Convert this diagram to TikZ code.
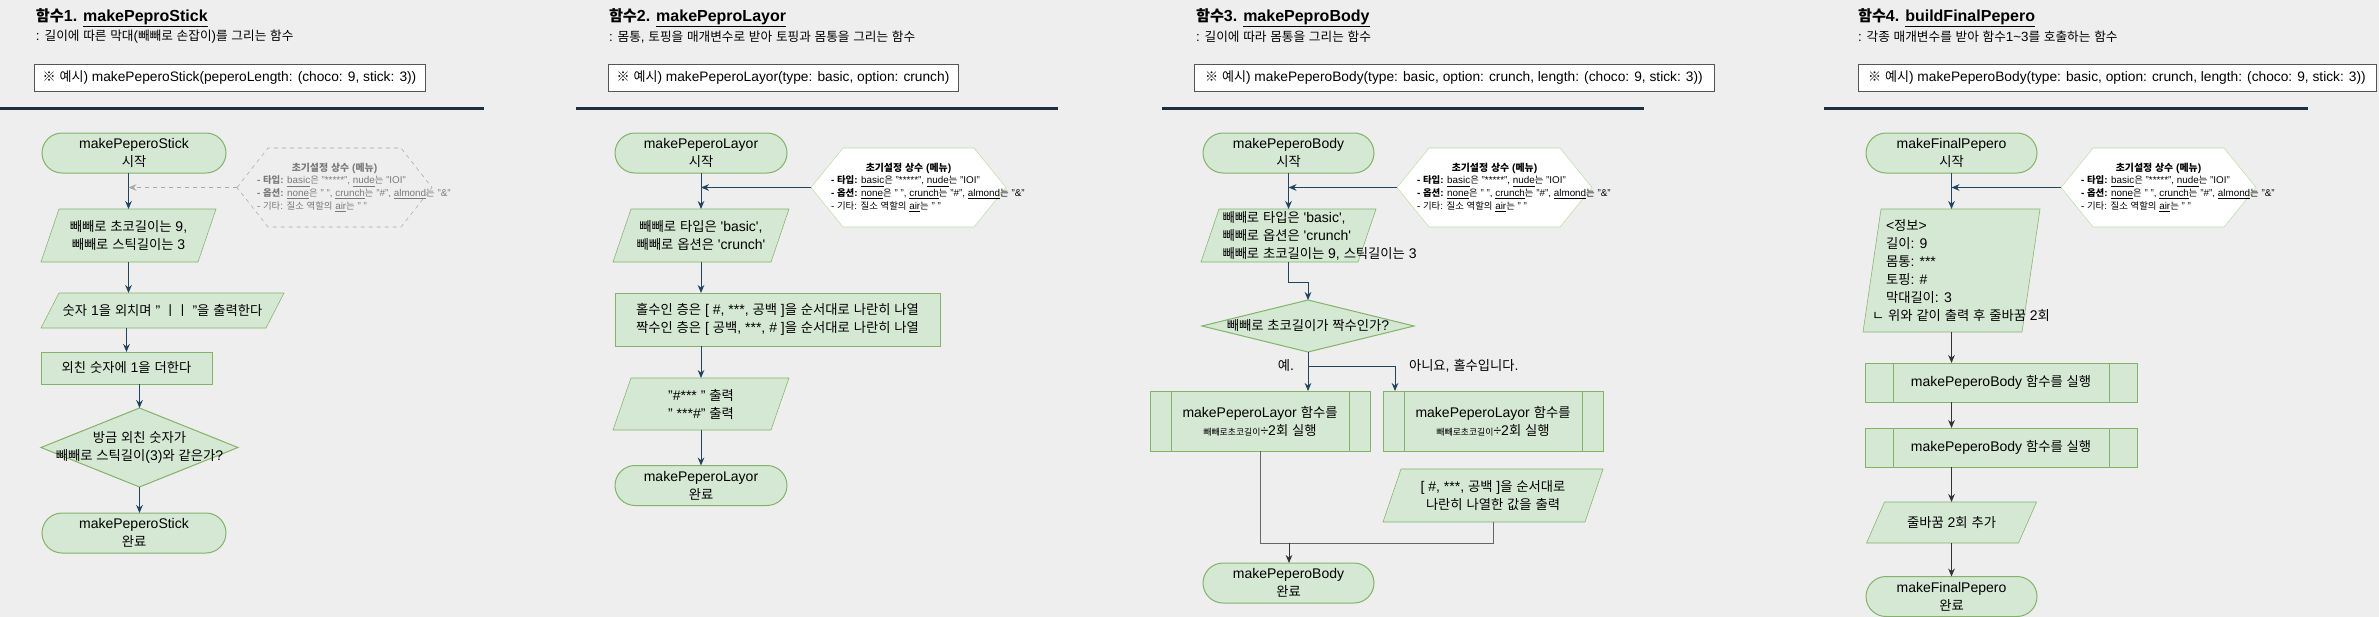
\documentclass[tikz,border=0pt]{standalone}
\usepackage{fontspec}
\setmainfont{Liberation Sans}
\newfontfamily\krfont{Noto Sans CJK KR}[Scale=0.95]
\usetikzlibrary{calc,shapes.geometric,arrows.meta}

% hangul is set in the CJK font, the rest in Liberation Sans
\XeTeXinterchartokenstate=1
\newXeTeXintercharclass\krclass
\newcount\krcode
\krcode="AC00
\loop
  \XeTeXcharclass\krcode=\krclass
  \advance\krcode by 1
\ifnum\krcode<"D7A4 \repeat
\XeTeXcharclass"3134=\krclass
\XeTeXcharclass"3163=\krclass
\XeTeXcharclass"203B=\krclass
\XeTeXinterchartoks 0 \krclass = {\krfont}
\XeTeXinterchartoks 4095 \krclass = {\krfont}
\XeTeXinterchartoks \krclass 0 = {\rmfamily}
\XeTeXinterchartoks \krclass 4095 = {\rmfamily}

\newdimen\pxu
\pxu=0.75pt
\newcommand{\squote}{\textquotesingle}
\newcommand{\midline}[1]{\makebox[0pt]{#1}}
\newcommand{\shiftline}[2]{\makebox[0pt][l]{\hspace*{#1}#2}}
\newcommand{\menutext}{%
  \midline{\fontsize{7.8}{9.5}\selectfont\bfseries 초기설정 상수 (메뉴)}\\
  \shiftline{-77.5\pxu}{\textbf{- 타입:} \underline{basic}은 "*****", \underline{nude}는 "IOI"}\\
  \shiftline{-77.5\pxu}{\textbf{- 옵션:} \underline{none}은 " ", \underline{crunch}는 "\#", \underline{almond}는 "\&"}\\
  \shiftline{-77.5\pxu}{- 기타: 질소 역할의 \underline{air}는 " "}}

\definecolor{bgcol}{HTML}{EEEEEE}
\definecolor{boxfill}{HTML}{D5E8D4}
\definecolor{boxline}{HTML}{82B366}
\definecolor{arrowblue}{HTML}{23445D}
\definecolor{arrowdark}{HTML}{333333}
\definecolor{joingray}{HTML}{666666}
\definecolor{rulecol}{HTML}{1F2F42}
\definecolor{hexline}{HTML}{BCDDAA}
\definecolor{hexgray}{HTML}{A8A8A8}
\definecolor{hextext}{HTML}{7A7A7A}
\definecolor{exampleline}{HTML}{555555}

\pgfdeclarelayer{background}
\pgfsetlayers{background,main}

\tikzset{
  every node/.style={font=\fontsize{10.5}{13.5}\selectfont, inner sep=1pt, outer sep=0pt},
  wh/.style 2 args={minimum width=#1*0.75pt, minimum height=#2*0.75pt},
  title/.style={font=\fontsize{12}{14}\selectfont\bfseries, inner sep=0pt},
  subtitle/.style={font=\fontsize{10}{12}\selectfont, inner sep=0pt},
  example/.style={draw=exampleline, fill=white, font=\fontsize{10.3}{12}\selectfont,
    inner xsep=4.5pt, minimum height=19.5pt, minimum width=#1*0.75pt},
  term/.style={rectangle, rounded corners=15pt, draw=boxline, fill=boxfill, align=center},
  proc/.style={rectangle, draw=boxline, fill=boxfill, align=center},
  subproc/.style={proc},
  iobox/.style={rectangle, align=center},
  check/.style={diamond, draw=boxline, fill=boxfill, align=center, inner sep=0pt},
  menu/.style={rectangle, align=center, font=\fontsize{7.4}{9.5}\selectfont},
  branch/.style={inner sep=0pt},
  rule/.style={draw=rulecol, line width=2.25pt},
  flow/.style={draw=arrowblue, -{Stealth[length=6pt,width=5pt]}},
  flowdark/.style={draw=arrowdark, -{Stealth[length=6pt,width=5pt]}},
  menuflow/.style={draw=hexgray, dashed, -{Stealth[length=6pt,width=5pt]}},
  joinline/.style={draw=joingray},
}

\begin{document}
\begin{tikzpicture}[x=0.75pt, y=-0.75pt, line width=0.75pt]
  \useasboundingbox (0,0) rectangle (2379,617);

  % FUNCTION 1
  \node[title, anchor=west] (t1) at (36,18) {함수1. \underline{makePeproStick}};
  \node[subtitle, anchor=west] (d1) at (36,37) {: 길이에 따른 막대(빼빼로 손잡이)를 그리는 함수};
  \node[example=391, anchor=west] (e1) at (34,78) {※ 예시) makePeperoStick(peperoLength: (choco: 9, stick: 3))};
  \draw[rule] (0,108) -- (484,108);
  \node[term, wh={184}{40}] (s1start) at (134,153) {makePeperoStick\\시작};
  \node[menu, wh={195}{79}, text=hextext] (s1menu) at (334.5,187.5) {\menutext};
  \node[iobox, wh={175}{53}] (s1in) at (128.5,235.5) {빼빼로 초코길이는 9,\\빼빼로 스틱길이는 3};
  \node[iobox, wh={243}{35}] (s1say) at (162.5,310.5) {숫자 1을 외치며 " ㅣㅣ "을 출력한다};
  \node[proc, wh={171}{32}] (s1add) at (126.5,368) {외친 숫자에 1을 더한다};
  \node[check, wh={197}{79}] (s1check) at (139.5,447.5) {\midline{방금 외친 숫자가}\\\midline{빼빼로 스틱길이(3)와 같은가?}};
  \node[term, wh={184}{40}] (s1end) at (134,533) {makePeperoStick\\완료};
  \draw[flow] (s1start.south -| s1in.north) -- (s1in.north);
  \draw[menuflow] (s1menu.west) -- (s1menu.west -| s1in.north);
  \draw[flow] (s1in.south) -- (s1in.south |- s1say.north);
  \draw[flow] (s1add.north |- s1say.south) -- (s1add.north);
  \draw[flow] (s1check.north |- s1add.south) -- (s1check.north);
  \draw[flow] (s1check.south) -- (s1check.south |- s1end.north);

  % FUNCTION 2
  \node[title, anchor=west] (t2) at (609,18) {함수2. \underline{makePeproLayor}};
  \node[subtitle, anchor=west] (d2) at (609,37) {: 몸통, 토핑을 매개변수로 받아 토핑과 몸통을 그리는 함수};
  \node[example=350, anchor=west] (e2) at (608,78) {※ 예시) makePeperoLayor(type: basic, option: crunch)};
  \draw[rule] (576,108) -- (1058,108);
  \node[term, wh={172}{40}] (s2start) at (701,153) {makePeperoLayor\\시작};
  \node[menu, wh={195}{79}] (s2menu) at (908.5,187.5) {\menutext};
  \node[iobox, wh={176}{53}] (s2in) at (701,235.5) {빼빼로 타입은 \squote basic\squote,\\빼빼로 옵션은 \squote crunch\squote};
  \node[proc, wh={325}{53}] (s2layer) at (777.5,319.5) {홀수인 층은 [ \#, ***, 공백 ]을 순서대로 나란히 나열\\짝수인 층은 [ 공백, ***, \# ]을 순서대로 나란히 나열};
  \node[iobox, wh={176}{52}] (s2out) at (701,404) {"\#*** " 출력\\" ***\#" 출력};
  \node[term, wh={172}{40}] (s2end) at (701,485.5) {makePeperoLayor\\완료};
  \draw[flow] (s2start.south) -- (s2in.north);
  \draw[flow] (s2menu.west) -- (s2menu.west -| s2start.south);
  \draw[flow] (s2in.south) -- (s2in.south |- s2layer.north);
  \draw[flow] (s2in.south |- s2layer.south) -- (s2out.north);
  \draw[flow] (s2out.south) -- (s2end.north);

  % FUNCTION 3
  \node[title, anchor=west] (t3) at (1196,18) {함수3. \underline{makePeproBody}};
  \node[subtitle, anchor=west] (d3) at (1196,37) {: 길이에 따라 몸통을 그리는 함수};
  \node[example=520, anchor=west] (e3) at (1194,78) {※ 예시) makePeperoBody(type: basic, option: crunch, length: (choco: 9, stick: 3))};
  \draw[rule] (1162,108) -- (1644,108);
  \node[term, wh={171}{40}] (s3start) at (1288.5,153) {makePeperoBody\\시작};
  \node[menu, wh={195}{79}] (s3menu) at (1494.5,187.5) {\menutext};
  \node[iobox, wh={175}{53}] (s3in) at (1288.5,235.5) {\shiftline{-66\pxu}{빼빼로 타입은 \squote basic\squote,}\\\shiftline{-66\pxu}{빼빼로 옵션은 \squote crunch\squote}\\\shiftline{-66\pxu}{빼빼로 초코길이는 9, 스틱길이는 3}};
  \node[check, wh={212}{52}] (s3check) at (1308,326) {\midline{빼빼로 초코길이가 짝수인가?}};
  \node[branch] (s3yes) at (1286,366) {예.};
  \node[branch, anchor=west] (s3no) at (1409,366) {아니요, 홀수입니다.};
  \node[subproc, wh={220}{60}] (s3even) at (1260,421) {makePeperoLayor 함수를\\{\fontsize{7}{8}\selectfont 빼빼로초코길이}÷2회 실행};
  \node[subproc, wh={220}{60}] (s3odd) at (1493,421) {makePeperoLayor 함수를\\{\fontsize{7}{8}\selectfont 빼빼로초코길이}÷2회 실행};
  \node[iobox, wh={220}{53}] (s3out) at (1493,495.5) {[ \#, ***, 공백 ]을 순서대로\\나란히 나열한 값을 출력};
  \coordinate (s3join) at (1289,543);
  \node[term, wh={171}{40}] (s3end) at (1288.5,583) {makePeperoBody\\완료};
  \draw[flow] (s3start.south) -- (s3in.north);
  \draw[flow] (s3menu.west) -- (s3menu.west -| s3start.south);
  \draw[flow] (s3in.south) -- ++(0,20) -| (s3check.north);
  \draw[flow] (s3check.south) -- (s3check.south |- s3even.north);
  \draw[flow] (s3check.south) -- ++(0,14) -| ($(s3odd.north west)+(12,0)$);
  \draw[joinline] (s3even.south) |- (s3join);
  \draw[joinline] (s3out.south) |- (s3join);
  \draw[flowdark] (s3join) -- (s3join |- s3end.north);

  % FUNCTION 4
  \node[title, anchor=west] (t4) at (1858,18) {함수4. \underline{buildFinalPepero}};
  \node[subtitle, anchor=west] (d4) at (1858,37) {: 각종 매개변수를 받아 함수1\textasciitilde 3를 호출하는 함수};
  \node[example=518, anchor=west] (e4) at (1858,78) {※ 예시) makePeperoBody(type: basic, option: crunch, length: (choco: 9, stick: 3))};
  \draw[rule] (1824,108) -- (2308,108);
  \node[term, wh={171}{40}] (s4start) at (1951.5,153) {makeFinalPepero\\시작};
  \node[menu, wh={195}{79}] (s4menu) at (2158.5,187.5) {\menutext};
  \node[iobox, wh={177}{123}] (s4info) at (1951.5,270.5) {\shiftline{-65.5\pxu}{<정보>}\\\shiftline{-65.5\pxu}{길이: 9}\\\shiftline{-65.5\pxu}{몸통: ***}\\\shiftline{-65.5\pxu}{토핑: \#}\\\shiftline{-65.5\pxu}{막대길이: 3}\\\shiftline{-79.5\pxu}{ㄴ 위와 같이 출력 후 줄바꿈 2회}};
  \node[subproc, wh={272}{39}] (s4body1) at (2001,382.5) {makePeperoBody 함수를 실행};
  \node[subproc, wh={272}{39}] (s4body2) at (2001,447.5) {makePeperoBody 함수를 실행};
  \node[iobox, wh={170}{41}] (s4nl) at (1951.5,522.5) {줄바꿈 2회 추가};
  \node[term, wh={171}{40}] (s4end) at (1951.5,596.5) {makeFinalPepero\\완료};
  \draw[flow] (s4start.south) -- (s4info.north);
  \draw[flow] (s4menu.west) -- (s4menu.west -| s4start.south);
  \draw[flowdark] (s4info.south) -- (s4info.south |- s4body1.north);
  \draw[flowdark] (s4info.south |- s4body1.south) -- (s4info.south |- s4body2.north);
  \draw[flowdark] (s4info.south |- s4body2.south) -- (s4nl.north);
  \draw[flowdark] (s4nl.south) -- (s4end.north);

  % SUBPROCESS BARS
  \foreach \n/\d in {s3even/21,s3odd/21,s4body1/28,s4body2/28}
    \draw[boxline] ($(\n.north west)+(\d,0)$) -- ($(\n.south west)+(\d,0)$)
                   ($(\n.north east)+(-\d,0)$) -- ($(\n.south east)+(-\d,0)$);

  % BACKGROUND, INPUT/OUTPUT SHAPES, MENU HEXAGONS
  \begin{pgfonlayer}{background}
    \fill[bgcol] (0,0) rectangle (2379,617);
    \foreach \n in {s1in,s1say,s2in,s2out,s3in,s3out,s4info,s4nl}
      \filldraw[draw=boxline, fill=boxfill] ($(\n.north west)+(18,0)$) -- (\n.north east)
        -- ($(\n.south east)+(-18,0)$) -- (\n.south west) -- cycle;
    \draw[hexgray, dashed] (s1menu.west) -- ($(s1menu.north west)+(31,0)$) -- ($(s1menu.north east)+(-31,0)$)
      -- (s1menu.east) -- ($(s1menu.south east)+(-31,0)$) -- ($(s1menu.south west)+(31,0)$) -- cycle;
    \foreach \n in {s2menu,s3menu,s4menu}
      \filldraw[draw=hexline, fill=white] (\n.west) -- ($(\n.north west)+(32,0)$) -- ($(\n.north east)+(-32,0)$)
        -- (\n.east) -- ($(\n.south east)+(-32,0)$) -- ($(\n.south west)+(32,0)$) -- cycle;
  \end{pgfonlayer}
\end{tikzpicture}
\end{document}
